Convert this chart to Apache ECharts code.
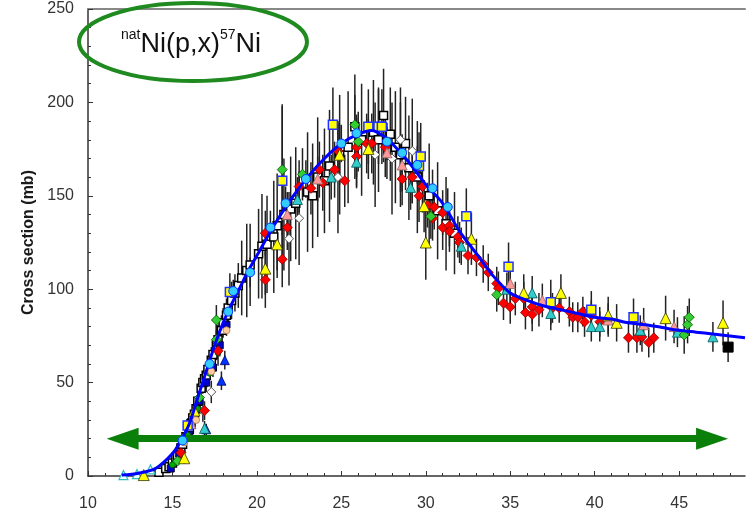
<!DOCTYPE html>
<html>
<head>
<meta charset="utf-8">
<script src="https://cdn.jsdelivr.net/npm/echarts@6/dist/echarts.min.js"></script>
<style>
  html, body { margin: 0; padding: 0; background: #fff; }
  #chart { width: 754px; height: 514px; }
</style>
</head>
<body>
<div id="chart"></div>
<script>
// natNi(p,x)57Ni excitation function: measured points [energy MeV, cross section mb, uncertainty mb]
const redDiamonds = [
  [15.5,12.5,3],[16.9,35,5],[17.7,67,8],[20.5,105,15],[20.5,130,12],[21.5,116,15],[21.8,133,12],
  [22.5,155,14],[23.2,154,14],[23.7,164,15],[23.9,157,15],[24.6,164,15],[24.8,174,15],[25.2,158,14],
  [25.9,176,16],[25.9,171,16],[26.5,178,16],[26.8,178,16],[27.6,176,16],[28.6,159,14],[29.2,160,14],
  [29.8,155,14],[29.6,150,14],[30.1,145,12],[30.5,144,12],[30.4,138,12],[31.0,141,12],[31.0,133,12],
  [31.4,134,11],[31.4,131,11],[31.9,128,11],[32.0,125,11],[32.5,118,10],[33.0,117,10],[33.4,113.5,10],
  [33.7,109,10],[34.2,103,9],[34.3,100.5,9],[34.6,92.5,9],[35.0,90.5,9],[35.3,95,9],[35.8,95,9],
  [35.9,87.5,9],[36.3,90.5,9],[36.3,86.5,9],[36.7,89,9],[37.5,90,8],[37.9,90,8],[38.5,88,8],
  [38.7,85,8],[39.0,85,8],[39.3,88,8],[39.4,82.5,8],[39.8,86,8],[40.3,82.5,8],[42.0,74,8],
  [42.5,74,8],[42.8,74.5,8],[43.2,71.5,8],[43.5,74,8]
];
const yellowTriangles = [
  [13.3,0.5,0],[15.7,9.5,3],[16.3,35,5],[20.5,111,14],[21.2,124,14],[24.9,172,16],[26.6,175,16],
  [29.9,144.5,14],[30.0,125,20],[32.7,127,14],[35.8,98,10],[38.0,98,10],[40.8,86,10],[41.3,82,10],
  [44.2,84.5,12],[47.6,82,12]
];
const yellowSquares = [
  [15.9,27,4],[18.4,98.5,10],[21.5,158,40],[24.5,188,20],[26.6,187,20],[27.2,187,20],[27.4,187,20],
  [29.7,171,18],[29.6,166,18],[32.4,139,15],[34.9,112,13],[37.4,93,12],[39.8,89,10],[42.3,85,10]
];
const cyanCircles = [
  [15.6,19,3],[17.2,60,5],[18.3,88,6],[18.6,99,6],[19.6,109,8],[20.8,133,9],[21.7,146,9],
  [22.9,159,10],[25.0,178,10],[25.9,183.5,10],[27.7,179,10],[28.6,173,10],[29.5,166.5,10],
  [30.4,154,10],[31.3,144,10]
];
const cyanTriangles = [
  [16.9,25.5,4],[22.4,148,12],[24.4,160,12],[25.9,168,14],[29.1,154.5,12],[32.1,123,10],
  [34.8,100,9],[36.3,98,9],[37.4,87,9],[39.8,80,8],[40.3,80,8],[42.7,78,8],[44.9,77,8],[47.0,74.5,8]
];
const greenDiamonds = [
  [15.3,8,2],[16.6,42,4],[17.6,83.5,8],[17.6,73,8],[21.5,164,35],[22.7,161.5,14],[25.8,188,16],
  [26.0,179,16],[30.3,139,12],[34.2,97,9],[45.3,75.5,10],[45.5,81,10],[45.6,85,10]
];
const pinkTriangles = [
  [16.1,28,4],[21.8,140,12],[23.6,159,12],[27.7,173,14],[28.6,166.5,14],[35.0,103,10],
  [36.9,94,9],[40.8,83.5,9],[42.9,81,9],[44.7,80,9]
];
const openSquares = [
  [14.2,2,1],[14.6,4,2],[14.8,5,2],[15.0,7,2],[15.2,10,3],[15.3,11,3],[15.5,15,3],[15.6,17,3],
  [15.8,21,4],[16.0,25,4],[16.1,28,4],[16.2,31,4],[16.3,33,5],[16.4,36,5],[16.5,40,5],[16.7,47,6],
  [16.8,50,6],[16.9,52,6],[17.0,54,6],[17.1,57,7],[17.3,62,7],[17.4,65,7],[17.6,70,8],[17.7,73,8],
  [17.9,78,8],[18.0,82,8],[18.2,86,9],[18.3,90,9],[18.5,94,10],[18.7,98,10],[18.9,102,12],
  [19.1,106,20],[19.4,110,25],[19.6,113,22],[20.1,119,24],[20.3,123,28],[20.6,124,26],[21.0,128,30],
  [21.2,134,28],[21.6,140,30],[22.0,143,28],[22.3,146,30],[23.0,152,32],[23.3,150,28],[23.6,160,32],
  [24.0,158,28],[24.3,166,30],[24.9,172,32],[25.4,176,30],[25.8,187,28],[26.2,180,30],[26.9,184,28],
  [27.2,180,28],[27.5,193,25],[27.9,183,25],[28.2,176,30],[28.5,172,28],[28.8,178,25],[29.0,165,28],
  [29.5,160,30],[30.2,150,28],[30.7,142,26],[31.2,135,25],[31.7,130,22]
];
const openDiamonds = [
  [16.8,35,6],[17.3,45,6],[21.9,127,25],[22.5,138,25],[24.8,160,30],[27.0,172,28],[28.0,170,30],
  [28.5,180,28],[29.2,174,28]
];
const blueSquares = [
  [14.9,4,2],[15.4,12,3],[16.0,22,3],[16.6,40,4],[17.0,50,5],[17.4,58,5],[17.8,70,6],[18.2,81,6]
];
const blueTriangles = [[17.0,25,3],[17.9,51,5],[18.1,62,5]];
const greenCircles = [[15.0,6,0],[15.9,22,0],[16.5,36,0],[17.2,55,0],[17.7,66,0]];
const peachCircles = [[15.7,18,0],[16.4,30,0],[17.3,56,0],[18.2,78,0]];
const openTriangles = [[12.1,0.5,0],[12.9,1,0],[13.7,3.5,0]];
const blackSquares = [[47.9,69,8]];

// evaluated fit through the data
const fitX = [12,13,14,15,15.5,16,16.5,17,17.5,18,18.5,19,19.5,20,21,22,23,24,25,26,26.8,27.5,28,29,30,31,32,33,34,35,36,37,38,39,40,41,42,43,44,45,46,47,48,48.9];
const fitY = [0.5,1.5,4,12,19,28,42,56,70,82,92,101,110,118,134,148,160,170,178,183,185,182,178,168,156,146,131,119,107,98,94,91,89,87,85,84,82,81,79.5,78,77,76,75,74];

// axis ticks and labels
const xLabels = [10,15,20,25,30,35,40,45];
const xMinorTicks = [10,11,12,13,14,15,16,17,18,19,20,21,22,23,24,25,26,27,28,29,30,31,32,33,34,35,36,37,38,39,40,41,42,43,44,45,46,47,48];
const yLabels = [0,50,100,150,200,250];

// energy-range arrow
const arrowY = 20;
const arrowFrom = 12.05;
const arrowTo = 46.95;

const X_MIN = 10, X_MAX = 48.9;
const font = 'Liberation Sans, Arial, sans-serif';

const chart = echarts.init(document.getElementById('chart'), null, { renderer: 'canvas' });

function markerSeries(name, data, symbol, size, fill, border, borderWidth, z) {
  return {
    name, type: 'scatter', data: data.map(d => [d[0], d[1]]),
    symbol, symbolSize: size, z: z || 4,
    itemStyle: { color: fill, borderColor: border, borderWidth: borderWidth, opacity: 1 },
    emphasis: { disabled: true }
  };
}

const allPoints = [].concat(redDiamonds, yellowTriangles, yellowSquares, cyanCircles, cyanTriangles,
  greenDiamonds, pinkTriangles, openSquares, openDiamonds, blueSquares, blueTriangles, blackSquares)
  .filter(d => d[2] > 0);

const option = {
  animation: false,
  backgroundColor: '#ffffff',
  grid: { left: 88, right: 9, top: 9, bottom: 38, containLabel: false },
  xAxis: [
    {
      type: 'value', min: X_MIN, max: X_MAX, position: 'bottom',
      axisLine: { lineStyle: { color: '#333', width: 1.5 } },
      splitLine: { show: false },
      axisTick: { inside: true, length: 5, customValues: xLabels, lineStyle: { color: '#333' } },
      axisLabel: { customValues: xLabels, color: '#333', fontSize: 16, fontFamily: font, margin: 20 }
    },
    {
      type: 'value', min: X_MIN, max: X_MAX, position: 'bottom',
      axisLine: { show: false }, splitLine: { show: false },
      axisTick: { inside: true, length: 3, customValues: xMinorTicks, lineStyle: { color: '#333' } },
      axisLabel: { show: false }
    },
    {
      type: 'value', min: X_MIN, max: X_MAX, position: 'top',
      axisLine: { lineStyle: { color: '#888', width: 2 } },
      axisTick: { show: false }, axisLabel: { show: false }, splitLine: { show: false }
    }
  ],
  yAxis: {
    type: 'value', min: 0, max: 250, interval: 50,
    name: 'Cross section (mb)', nameLocation: 'middle', nameRotate: 90, nameGap: 49,
    nameTextStyle: { fontWeight: 'bold', fontSize: 16, color: '#1a1a1a', fontFamily: font },
    axisLine: { show: true, lineStyle: { color: '#333', width: 1.5 } },
    axisTick: { inside: true, length: 5, lineStyle: { color: '#333' } },
    minorTick: { show: true, splitNumber: 5, length: 3, lineStyle: { color: '#333' } },
    splitLine: { show: false },
    axisLabel: { customValues: yLabels, color: '#333', fontSize: 16, fontFamily: font, margin: 14 }
  },
  series: [
    {
      name: 'uncertainty', type: 'custom', z: 2, clip: true,
      data: allPoints,
      encode: { x: 0, y: 1 },
      renderItem: function (params, api) {
        const x = api.value(0), y = api.value(1), e = api.value(2);
        const p1 = api.coord([x, y - e]);
        const p2 = api.coord([x, y + e]);
        return { type: 'line', shape: { x1: p1[0], y1: p1[1], x2: p2[0], y2: p2[1] },
          style: { stroke: '#222', lineWidth: 1.5 } };
      }
    },
    markerSeries('open squares', openSquares, 'rect', 8, '#ffffff', '#000000', 1.5, 3),
    markerSeries('open diamonds', openDiamonds, 'diamond', 9, '#ffffff', '#555555', 1, 3),
    markerSeries('blue squares', blueSquares, 'rect', 7, '#0000cc', '#000033', 1, 3),
    markerSeries('green circles', greenCircles, 'circle', 6, '#00aa00', '#004400', 0.8, 3),
    markerSeries('peach circles', peachCircles, 'circle', 7, '#ffcc99', '#aa7755', 0.8, 3),
    markerSeries('blue triangles', blueTriangles, 'triangle', 9, '#0033ff', '#000066', 0.8, 3),
    markerSeries('open triangles', openTriangles, 'triangle', 9, '#eaffff', '#33bbbb', 1.2, 3),
    markerSeries('red', redDiamonds, 'diamond', 10, '#ff0000', '#880000', 0.8, 4),
    markerSeries('cyan triangles', cyanTriangles, 'triangle', 10, '#33cccc', '#005555', 0.8, 4),
    markerSeries('pink triangles', pinkTriangles, 'triangle', 10, '#ff9999', '#886666', 0.8, 4),
    markerSeries('green diamonds', greenDiamonds, 'diamond', 10, '#33cc33', '#005500', 0.8, 4),
    markerSeries('yellow triangles', yellowTriangles, 'triangle', 11, '#ffff00', '#333300', 0.8, 4),
    markerSeries('yellow squares', yellowSquares, 'rect', 9, '#ffff00', '#2233ff', 1.5, 4),
    markerSeries('black squares', blackSquares, 'rect', 10, '#000000', '#000000', 1, 4),
    {
      name: 'fit', type: 'line', z: 5,
      data: fitX.map((x, i) => [x, fitY[i]]),
      showSymbol: false, smooth: 0.3,
      lineStyle: { color: '#0000ff', width: 3 },
      emphasis: { disabled: true },
      markLine: {
        silent: true, animation: false,
        symbol: ['triangle', 'triangle'], symbolSize: [22, 32],
        lineStyle: { color: '#0a800a', width: 7, type: 'solid', opacity: 1 },
        label: { show: false },
        emphasis: { disabled: true },
        data: [[{ coord: [arrowFrom, arrowY] }, { coord: [arrowTo, arrowY] }]]
      }
    },
    markerSeries('cyan circles', cyanCircles, 'circle', 9, '#33ccff', '#0033ff', 1, 6)
  ],
  graphic: [
    {
      type: 'ellipse', z: 10,
      shape: { cx: 193, cy: 42, rx: 114, ry: 39 },
      style: { fill: 'none', stroke: '#1f8a1f', lineWidth: 4 }
    },
    {
      type: 'text', z: 11, left: 121, top: 28,
      style: {
        text: '{sup|nat}{main|Ni(p,x)}{sup|57}{main|Ni}',
        rich: {
          main: { fontSize: 27, fontFamily: font, fill: '#111', lineHeight: 30, verticalAlign: 'bottom' },
          sup: { fontSize: 14, fontFamily: font, fill: '#111', lineHeight: 30, verticalAlign: 'top' }
        }
      }
    }
  ]
};

chart.setOption(option);
</script>
</body>
</html>
